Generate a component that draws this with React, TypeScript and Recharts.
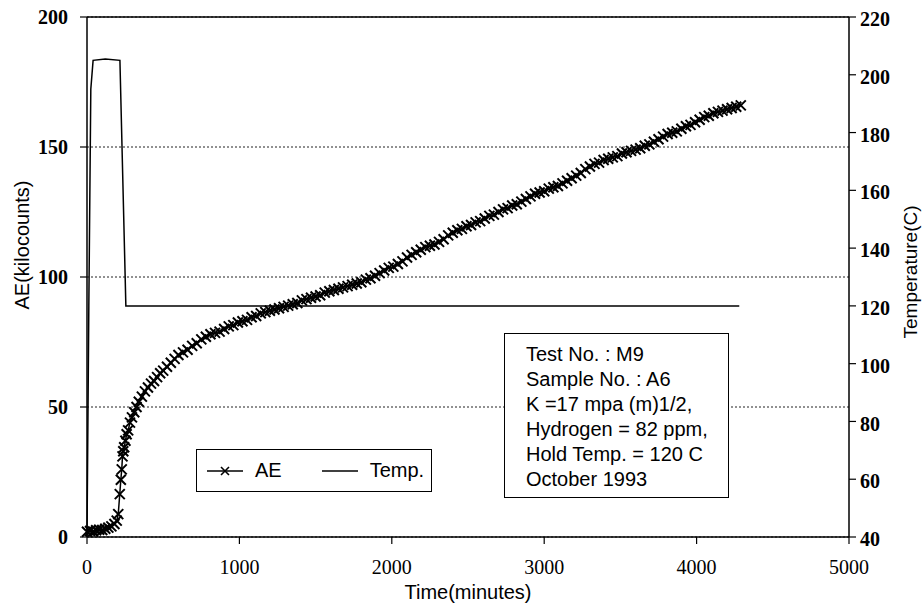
import React from "react";
import {
  CartesianGrid,
  Legend,
  Line,
  LineChart,
  ReferenceLine,
  XAxis,
  YAxis,
} from "recharts";

// minutes, kilocounts
const aeReadings: [number, number][] = [
  [0, 2.0], [20, 2.3], [40, 2.1], [60, 2.6], [80, 2.8], [100, 2.7], [120, 3.2], [140, 3.6],
  [160, 4.1], [180, 5.0], [195, 6.3], [205, 8.8], [215, 16.5], [222, 22], [228, 26], [233, 31],
  [238, 33], [244, 34.5], [252, 37], [260, 39.5], [270, 41], [282, 44], [295, 46], [310, 48],
  [325, 50], [340, 52], [360, 54], [380, 56], [400, 57.5], [420, 59], [440, 60], [460, 61.5],
  [480, 63], [500, 64], [525, 65.5], [550, 67], [575, 68.5], [600, 70], [630, 71], [660, 72],
  [690, 73.5], [720, 74.5], [750, 76], [780, 77], [810, 78], [840, 78.5], [870, 79], [900, 80],
  [930, 81], [960, 81.5], [990, 82.5], [1020, 83], [1050, 83.5], [1080, 84.5], [1110, 85],
  [1140, 86], [1170, 86.5], [1200, 87], [1230, 87.5], [1260, 88], [1290, 88.5], [1320, 89],
  [1350, 89.5], [1380, 90], [1410, 91], [1440, 91.5], [1470, 92], [1500, 92.5], [1530, 93],
  [1560, 94], [1590, 94.5], [1620, 95], [1650, 95.5], [1680, 96], [1710, 96.5], [1740, 97],
  [1770, 97.5], [1800, 98], [1830, 99], [1860, 99.5], [1890, 100.5], [1920, 101.5],
  [1950, 102.5], [1980, 103.5], [2010, 104], [2040, 105], [2070, 106], [2100, 107.5],
  [2130, 108.5], [2160, 109.5], [2190, 110.5], [2220, 111.5], [2250, 112], [2280, 112.5],
  [2310, 113.5], [2340, 114.5], [2370, 116], [2400, 117], [2430, 118], [2460, 118.5],
  [2490, 119.5], [2520, 120], [2550, 121], [2580, 121.5], [2610, 122.5], [2640, 123.5],
  [2670, 124], [2700, 125], [2730, 126], [2760, 126.5], [2790, 127.5], [2820, 128],
  [2850, 129], [2880, 130], [2910, 131], [2940, 132], [2970, 132.5], [3000, 133],
  [3030, 134], [3060, 134.5], [3090, 135], [3120, 136], [3150, 137], [3180, 138],
  [3210, 139], [3240, 140], [3270, 141.5], [3300, 142.5], [3330, 143.5], [3360, 144],
  [3390, 145], [3420, 145.5], [3450, 146], [3480, 146.5], [3510, 147.5], [3540, 148],
  [3570, 148.5], [3600, 149], [3630, 149.5], [3660, 150.5], [3690, 151], [3720, 152],
  [3750, 153], [3780, 154], [3810, 155], [3840, 155.5], [3870, 156], [3900, 157],
  [3930, 158], [3960, 158.5], [3990, 159.5], [4020, 160.5], [4050, 161.5], [4080, 162],
  [4110, 163], [4140, 163.5], [4170, 164], [4200, 164.5], [4230, 165], [4260, 165.5],
  [4290, 166],
];

// minutes, degrees C
const tempReadings: [number, number][] = [
  [0, 40], [12, 120], [25, 195], [40, 205], [120, 205.5], [216, 205], [255, 120], [4280, 120],
];

const timeTicks = [0, 1000, 2000, 3000, 4000, 5000];
const aeTicks = [0, 50, 100, 150, 200];
const tempTicks = [40, 60, 80, 100, 120, 140, 160, 180, 200, 220];

const noteLines = [
  "Test No. : M9",
  "Sample No. : A6",
  "K =17 mpa (m)1/2,",
  "Hydrogen = 82 ppm,",
  "Hold Temp. = 120 C",
  "October 1993",
];

const aeData = aeReadings.map(([t, v]) => ({ t, ae: v }));
const tempData = tempReadings.map(([t, v]) => ({ t, temp: v }));

const SANS = "'Liberation Sans', Arial, sans-serif";
const SERIF = "'Liberation Serif', 'Times New Roman', serif";

const CrossDot = (props: any) => {
  const { cx, cy, index } = props;
  if (cx == null || cy == null) return <g key={index} />;
  const r = 5;
  return (
    <path
      key={index}
      d={`M${cx - r},${cy - r}L${cx + r},${cy + r}M${cx - r},${cy + r}L${cx + r},${cy - r}`}
      stroke="#000"
      strokeWidth={2}
      fill="none"
    />
  );
};

// fixed-position axis title, ignores the viewBox recharts hands in
const AxisTitle = ({ px, py, rotate, text, size = 20 }: any) => (
  <text
    transform={`translate(${px}, ${py})${rotate ? " rotate(-90)" : ""}`}
    textAnchor="middle"
    fontFamily={SANS}
    fontSize={size}
    fill="#000"
  >
    {text}
  </text>
);

const LegendBox = () => (
  <div
    style={{
      boxSizing: "border-box",
      width: 236,
      height: 43,
      border: "1.5px solid #000",
      background: "#fff",
      display: "flex",
      alignItems: "center",
      fontFamily: SANS,
      fontSize: 20,
      color: "#000",
    }}
  >
    <svg width={48} height={20} style={{ marginLeft: 10 }}>
      <line x1={0} y1={10} x2={36} y2={10} stroke="#000" strokeWidth={1.5} />
      <path d="M14,6L22,14M14,14L22,6" stroke="#000" strokeWidth={1.6} />
    </svg>
    <span>AE</span>
    <svg width={50} height={20} style={{ marginLeft: 38 }}>
      <line x1={2} y1={10} x2={38} y2={10} stroke="#000" strokeWidth={1.5} />
    </svg>
    <span>Temp.</span>
  </div>
);

export default function App() {
  return (
    <div
      style={{
        position: "absolute",
        left: 0,
        top: 0,
        width: 924,
        height: 606,
        background: "#fff",
      }}
    >
      <LineChart width={924} height={606} margin={{ top: 17, right: 0, bottom: 0, left: 0 }}>
        <CartesianGrid
          yAxisId="left"
          vertical={false}
          stroke="#222"
          strokeDasharray="2 2"
        />
        <XAxis
          type="number"
          dataKey="t"
          domain={[0, 5000]}
          ticks={timeTicks}
          interval={0}
          height={69}
          tickSize={7}
          tickMargin={16}
          axisLine={{ stroke: "#000", strokeWidth: 1.5 }}
          tickLine={{ stroke: "#000", strokeWidth: 1.2 }}
          tick={{ fontFamily: SERIF, fontSize: 20, fill: "#000" }}
          label={<AxisTitle px={468} py={599} text="Time(minutes)" />}
        />
        <YAxis
          yAxisId="left"
          orientation="left"
          domain={[0, 200]}
          ticks={aeTicks}
          interval={0}
          width={87}
          tickSize={7}
          tickMargin={12}
          axisLine={{ stroke: "#000", strokeWidth: 1.5 }}
          tickLine={{ stroke: "#000", strokeWidth: 1.2 }}
          tick={{ fontFamily: SERIF, fontSize: 20, fontWeight: 700, fill: "#000" }}
          label={<AxisTitle px={29} py={245} rotate text="AE(kilocounts)" />}
        />
        <YAxis
          yAxisId="right"
          orientation="right"
          domain={[40, 220]}
          ticks={tempTicks}
          interval={0}
          width={75}
          tickSize={7}
          tickMargin={4}
          axisLine={{ stroke: "#000", strokeWidth: 1.5 }}
          tickLine={{ stroke: "#000", strokeWidth: 1.2 }}
          tick={{ fontFamily: SERIF, fontSize: 20, fontWeight: 700, fill: "#000", dy: 2 }}
          label={<AxisTitle px={917} py={272} rotate size={19} text="Temperature(C)" />}
        />
        <ReferenceLine yAxisId="left" y={200} stroke="#000" strokeWidth={1.5} />
        <Line
          yAxisId="right"
          data={tempData}
          dataKey="temp"
          name="Temp."
          type="linear"
          stroke="#000"
          strokeWidth={1.5}
          dot={false}
          isAnimationActive={false}
        />
        <Line
          yAxisId="left"
          data={aeData}
          dataKey="ae"
          name="AE"
          type="linear"
          stroke="#000"
          strokeWidth={1.5}
          dot={CrossDot}
          isAnimationActive={false}
        />
        <Legend
          layout="horizontal"
          verticalAlign="middle"
          align="center"
          wrapperStyle={{ left: 196, top: 449, width: 236, height: 43 }}
          content={() => <LegendBox />}
        />
      </LineChart>
      <div
        style={{
          position: "absolute",
          left: 504,
          top: 333,
          width: 225,
          height: 165,
          boxSizing: "border-box",
          border: "1.5px solid #000",
          background: "#fff",
          padding: "8px 0 0 21px",
          fontFamily: SANS,
          fontSize: 20,
          lineHeight: "25px",
          color: "#000",
        }}
      >
        {noteLines.map((line) => (
          <div key={line} style={{ whiteSpace: "nowrap" }}>
            {line}
          </div>
        ))}
      </div>
    </div>
  );
}
